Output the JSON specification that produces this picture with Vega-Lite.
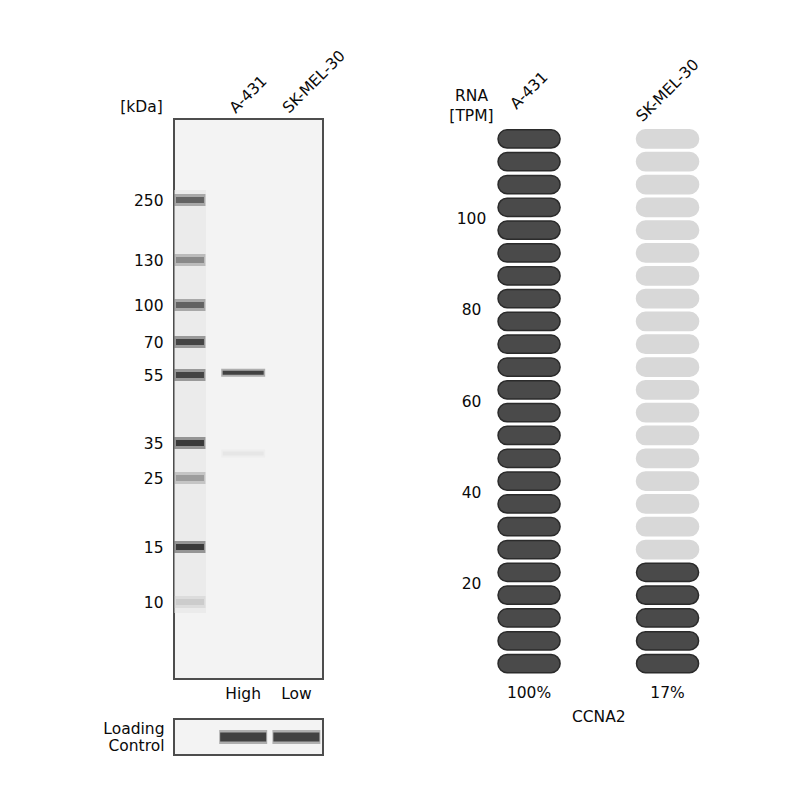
{
  "$schema": "https://vega.github.io/schema/vega-lite/v6.json",
  "padding": {"left": 101, "top": 46, "right": 5, "bottom": 5},
  "background": "white",
  "bounds": "flush",
  "spacing": 298,
  "config": {
    "font": "DejaVu Sans",
    "view": {"stroke": null},
    "axis": {"domain": false, "ticks": false, "tickSize": 0, "grid": false, "labelFont": "DejaVu Sans", "labelFontSize": 15.5, "labelColor": "#0a0a0a", "titleFont": "DejaVu Sans", "titleFontSize": 15.5, "titleFontWeight": "normal", "titleColor": "#0a0a0a"},
    "text": {"font": "DejaVu Sans", "fontSize": 15.5, "color": "#0a0a0a"}
  },
  "datasets": {
    "ladder": [
      {"lane": "Marker", "kDa": 250, "intensity": 0.76},
      {"lane": "Marker", "kDa": 130, "intensity": 0.55},
      {"lane": "Marker", "kDa": 100, "intensity": 0.76},
      {"lane": "Marker", "kDa": 70, "intensity": 0.92},
      {"lane": "Marker", "kDa": 55, "intensity": 0.92},
      {"lane": "Marker", "kDa": 35, "intensity": 0.98},
      {"lane": "Marker", "kDa": 25, "intensity": 0.45},
      {"lane": "Marker", "kDa": 15, "intensity": 0.97},
      {"lane": "Marker", "kDa": 10, "intensity": 0.2}
    ],
    "smear": [{"lane": "Marker", "kDa": 270, "kDa_end": 9}],
    "bands": [
      {"lane": "A-431", "kDa": 56, "intensity": 0.98},
      {"lane": "A-431", "kDa": 32, "intensity": 0.07}
    ],
    "loading": [
      {"lane": "A-431", "row": "Loading Control", "intensity": 0.98},
      {"lane": "SK-MEL-30", "row": "Loading Control", "intensity": 0.96}
    ],
    "rna": [
      {"cell": "A-431", "lo": 0, "hi": 5, "state": "on"},
      {"cell": "A-431", "lo": 5, "hi": 10, "state": "on"},
      {"cell": "A-431", "lo": 10, "hi": 15, "state": "on"},
      {"cell": "A-431", "lo": 15, "hi": 20, "state": "on"},
      {"cell": "A-431", "lo": 20, "hi": 25, "state": "on"},
      {"cell": "A-431", "lo": 25, "hi": 30, "state": "on"},
      {"cell": "A-431", "lo": 30, "hi": 35, "state": "on"},
      {"cell": "A-431", "lo": 35, "hi": 40, "state": "on"},
      {"cell": "A-431", "lo": 40, "hi": 45, "state": "on"},
      {"cell": "A-431", "lo": 45, "hi": 50, "state": "on"},
      {"cell": "A-431", "lo": 50, "hi": 55, "state": "on"},
      {"cell": "A-431", "lo": 55, "hi": 60, "state": "on"},
      {"cell": "A-431", "lo": 60, "hi": 65, "state": "on"},
      {"cell": "A-431", "lo": 65, "hi": 70, "state": "on"},
      {"cell": "A-431", "lo": 70, "hi": 75, "state": "on"},
      {"cell": "A-431", "lo": 75, "hi": 80, "state": "on"},
      {"cell": "A-431", "lo": 80, "hi": 85, "state": "on"},
      {"cell": "A-431", "lo": 85, "hi": 90, "state": "on"},
      {"cell": "A-431", "lo": 90, "hi": 95, "state": "on"},
      {"cell": "A-431", "lo": 95, "hi": 100, "state": "on"},
      {"cell": "A-431", "lo": 100, "hi": 105, "state": "on"},
      {"cell": "A-431", "lo": 105, "hi": 110, "state": "on"},
      {"cell": "A-431", "lo": 110, "hi": 115, "state": "on"},
      {"cell": "A-431", "lo": 115, "hi": 120, "state": "on"},
      {"cell": "SK-MEL-30", "lo": 0, "hi": 5, "state": "on"},
      {"cell": "SK-MEL-30", "lo": 5, "hi": 10, "state": "on"},
      {"cell": "SK-MEL-30", "lo": 10, "hi": 15, "state": "on"},
      {"cell": "SK-MEL-30", "lo": 15, "hi": 20, "state": "on"},
      {"cell": "SK-MEL-30", "lo": 20, "hi": 25, "state": "on"},
      {"cell": "SK-MEL-30", "lo": 25, "hi": 30, "state": "off"},
      {"cell": "SK-MEL-30", "lo": 30, "hi": 35, "state": "off"},
      {"cell": "SK-MEL-30", "lo": 35, "hi": 40, "state": "off"},
      {"cell": "SK-MEL-30", "lo": 40, "hi": 45, "state": "off"},
      {"cell": "SK-MEL-30", "lo": 45, "hi": 50, "state": "off"},
      {"cell": "SK-MEL-30", "lo": 50, "hi": 55, "state": "off"},
      {"cell": "SK-MEL-30", "lo": 55, "hi": 60, "state": "off"},
      {"cell": "SK-MEL-30", "lo": 60, "hi": 65, "state": "off"},
      {"cell": "SK-MEL-30", "lo": 65, "hi": 70, "state": "off"},
      {"cell": "SK-MEL-30", "lo": 70, "hi": 75, "state": "off"},
      {"cell": "SK-MEL-30", "lo": 75, "hi": 80, "state": "off"},
      {"cell": "SK-MEL-30", "lo": 80, "hi": 85, "state": "off"},
      {"cell": "SK-MEL-30", "lo": 85, "hi": 90, "state": "off"},
      {"cell": "SK-MEL-30", "lo": 90, "hi": 95, "state": "off"},
      {"cell": "SK-MEL-30", "lo": 95, "hi": 100, "state": "off"},
      {"cell": "SK-MEL-30", "lo": 100, "hi": 105, "state": "off"},
      {"cell": "SK-MEL-30", "lo": 105, "hi": 110, "state": "off"},
      {"cell": "SK-MEL-30", "lo": 110, "hi": 115, "state": "off"},
      {"cell": "SK-MEL-30", "lo": 115, "hi": 120, "state": "off"}
    ],
    "rna_pct": [
      {"cell": "A-431", "pct": "100%"},
      {"cell": "SK-MEL-30", "pct": "17%"}
    ]
  },
  "resolve": {"scale": {"x": "independent", "y": "independent"}},
  "hconcat": [
    {
      "bounds": "flush",
      "spacing": 40,
      "resolve": {"scale": {"x": "independent", "y": "independent"}},
      "vconcat": [
        {
          "width": 149,
          "height": 560,
          "view": {"stroke": "#4d4d4d", "strokeWidth": 2, "fill": "#f3f3f3"},
          "resolve": {"axis": {"x": "independent"}},
          "encoding": {
            "y": {"field": "kDa", "type": "quantitative",
              "scale": {"type": "linear", "zero": false, "nice": false,
                "domain": [10, 15, 25, 35, 55, 70, 100, 130, 250],
                "range": [483, 428, 359, 324, 256, 223, 186, 141, 81]},
              "axis": {"values": [250, 130, 100, 70, 55, 35, 25, 15, 10], "format": "d", "labelPadding": 11, "labelAlign": "right", "labelBaseline": "middle",
                "title": "[kDa]", "titleAngle": 0, "titleAlign": "center", "titleBaseline": "middle", "titleX": -33, "titleY": -13}},
            "color": {"field": "intensity", "type": "quantitative", "legend": null,
              "scale": {"domain": [0, 1], "range": ["#f3f3f3", "#0d0d0d"], "interpolate": "rgb"}}
          },
          "layer": [
            {
              "data": {"name": "smear"},
              "mark": {"type": "rect", "fill": "#e4e4e4", "opacity": 0.5},
              "encoding": {
                "x": {"field": "lane", "type": "nominal", "sort": null, "axis": null,
                  "scale": {"domain": ["Marker", "A-431", "SK-MEL-30"], "paddingInner": 0.4, "paddingOuter": 0.1, "align": 0}},
                "y2": {"field": "kDa_end"},
                "color": {"value": null}
              }
            },
            {
              "data": {"name": "ladder"},
              "mark": {"type": "tick", "orient": "horizontal", "thickness": 12, "size": 31, "opacity": 0.4},
              "encoding": {
                "x": {"field": "lane", "type": "nominal", "sort": null, "axis": null}
              }
            },
            {
              "data": {"name": "ladder"},
              "mark": {"type": "tick", "orient": "horizontal", "thickness": 6, "size": 28},
              "encoding": {
                "x": {"field": "lane", "type": "nominal", "sort": null,
                  "axis": {"orient": "top", "title": null, "labelAngle": -45, "labelAlign": "left", "labelBaseline": "middle", "labelOffset": -11, "labelPadding": 9,
                    "labelExpr": "datum.value == 'Marker' ? '' : datum.value"}}
              }
            },
            {
              "data": {"name": "bands"},
              "mark": {"type": "tick", "orient": "horizontal", "thickness": 8, "size": 44, "opacity": 0.3},
              "encoding": {
                "x": {"field": "lane", "type": "nominal", "sort": null, "axis": null}
              }
            },
            {
              "data": {"name": "bands"},
              "mark": {"type": "tick", "orient": "horizontal", "thickness": 4, "size": 41},
              "encoding": {
                "x": {"field": "lane", "type": "nominal", "sort": null,
                  "axis": {"orient": "bottom", "title": null, "labelAngle": 0, "labelAlign": "center", "labelBaseline": "middle", "labelPadding": 14,
                    "labelExpr": "datum.value == 'A-431' ? 'High' : datum.value == 'SK-MEL-30' ? 'Low' : ''"}}
              }
            }
          ]
        },
        {
          "width": 149,
          "height": 36,
          "view": {"stroke": "#4d4d4d", "strokeWidth": 2, "fill": "#f3f3f3"},
          "data": {"name": "loading"},
          "encoding": {
            "x": {"field": "lane", "type": "nominal", "sort": null, "axis": null,
              "scale": {"domain": ["Marker", "A-431", "SK-MEL-30"], "paddingInner": 0.4, "paddingOuter": 0.1, "align": 0}},
            "y": {"field": "row", "type": "nominal",
              "axis": {"labels": false, "title": ["Loading", "Control"], "titleAngle": 0, "titleAlign": "right", "titleBaseline": "middle", "titleX": -10, "titleY": 9.5, "titleLineHeight": 17}},
            "color": {"field": "intensity", "type": "quantitative", "legend": null,
              "scale": {"domain": [0, 1], "range": ["#f3f3f3", "#0d0d0d"], "interpolate": "rgb"}}
          },
          "layer": [
            {"mark": {"type": "tick", "orient": "horizontal", "thickness": 14, "size": 48, "opacity": 0.3}},
            {"mark": {"type": "tick", "orient": "horizontal", "thickness": 9, "size": 46}}
          ]
        }
      ]
    },
    {
      "width": 252.6,
      "height": 556,
      "resolve": {"axis": {"x": "independent"}},
      "layer": [
        {
          "data": {"name": "rna"},
          "mark": {"type": "rect", "cornerRadius": 9, "yOffset": -2.3, "y2Offset": 2.3, "strokeWidth": 1.5},
          "encoding": {
            "x": {"field": "cell", "type": "nominal", "sort": null,
              "scale": {"domain": ["A-431", "SK-MEL-30"], "paddingInner": 0.552, "paddingOuter": 0.188},
              "axis": {"orient": "top", "title": null, "labelAngle": -45, "labelAlign": "center", "labelBaseline": "middle", "labelPadding": 29}},
            "y": {"field": "lo", "type": "quantitative",
              "scale": {"domain": [0, 121.86], "nice": false, "zero": false},
              "axis": {"values": [20, 40, 60, 80, 100], "labelAlign": "center", "labelBaseline": "middle", "labelPadding": 1,
                "title": ["RNA", "[TPM]"], "titleAngle": 0, "titleAlign": "center", "titleBaseline": "middle", "titleX": -1, "titleY": -24, "titleLineHeight": 20}},
            "y2": {"field": "hi"},
            "fill": {"field": "state", "type": "nominal", "legend": null,
              "scale": {"domain": ["on", "off"], "range": ["#4a4a4a", "#d8d8d8"]}},
            "stroke": {"field": "state", "type": "nominal", "legend": null,
              "scale": {"domain": ["on", "off"], "range": ["#2b2b2b", "#d8d8d8"]}}
          }
        },
        {
          "data": {"name": "rna_pct"},
          "mark": {"type": "text", "dy": 18, "baseline": "middle", "align": "center"},
          "encoding": {
            "x": {"field": "cell", "type": "nominal",
              "axis": {"orient": "bottom", "labels": false, "title": "CCNA2", "titleY": 41, "titleBaseline": "middle"}},
            "y": {"datum": 0, "type": "quantitative"},
            "text": {"field": "pct"}
          }
        }
      ]
    }
  ]
}
